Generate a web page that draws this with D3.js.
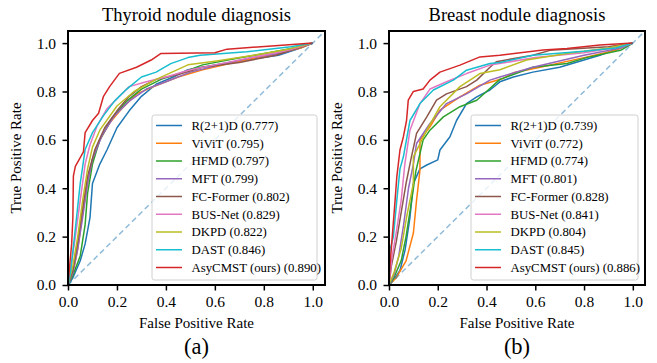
<!DOCTYPE html>
<html><head><meta charset="utf-8">
<script src="https://cdn.jsdelivr.net/npm/d3@7"></script>
<style>body{margin:0;background:#fff}svg{display:block}text{font-family:"Liberation Serif","Times New Roman",serif}</style>
</head><body><svg id="c" width="657" height="363"></svg>
<script>
const models = ["R(2+1)D","ViViT","HFMD","MFT","FC-Former","BUS-Net","DKPD","DAST","AsyCMST (ours)"];
const colors = ["#1f77b4","#ff7f0e","#2ca02c","#9467bd","#8c564b","#e377c2","#bcbd22","#17becf","#d62728"];
const aucThyroid = ["0.777","0.795","0.797","0.799","0.802","0.829","0.822","0.846","0.890"];
const aucBreast = ["0.739","0.772","0.774","0.801","0.828","0.841","0.804","0.845","0.886"];
const ticks = [0,0.2,0.4,0.6,0.8,1.0];

// Thyroid ROC curves [fpr, tpr]
const thyR21D = [[0,0],[0.02,0.03],[0.05,0.1],[0.07,0.17],[0.09,0.28],[0.1,0.42],[0.13,0.5],[0.16,0.56],[0.2,0.65],[0.25,0.72],[0.3,0.78],[0.36,0.83],[0.43,0.86],[0.49,0.89],[0.6,0.91],[0.66,0.92],[0.76,0.935],[0.86,0.95],[0.95,0.98],[1,1]];
const thyViViT = [[0,0],[0.02,0.05],[0.04,0.15],[0.06,0.3],[0.08,0.42],[0.1,0.52],[0.13,0.6],[0.17,0.67],[0.22,0.73],[0.28,0.79],[0.35,0.82],[0.45,0.86],[0.55,0.89],[0.7,0.925],[0.85,0.955],[0.95,0.98],[1,1]];
const thyHFMD = [[0,0],[0.02,0.04],[0.05,0.12],[0.07,0.25],[0.08,0.38],[0.1,0.5],[0.13,0.6],[0.18,0.69],[0.24,0.76],[0.3,0.81],[0.38,0.85],[0.47,0.88],[0.55,0.91],[0.68,0.935],[0.82,0.96],[0.95,0.985],[1,1]];
const thyMFT = [[0,0],[0.02,0.05],[0.04,0.15],[0.06,0.28],[0.08,0.42],[0.1,0.52],[0.14,0.62],[0.19,0.7],[0.25,0.76],[0.32,0.81],[0.4,0.84],[0.5,0.88],[0.62,0.91],[0.75,0.94],[0.88,0.96],[1,1]];
const thyFCF = [[0,0],[0.02,0.06],[0.04,0.18],[0.06,0.32],[0.08,0.45],[0.11,0.56],[0.15,0.65],[0.2,0.72],[0.25,0.78],[0.3,0.82],[0.36,0.85],[0.45,0.87],[0.55,0.9],[0.7,0.92],[0.85,0.95],[1,1]];
const thyBUS = [[0,0],[0.01,0.06],[0.03,0.2],[0.05,0.35],[0.07,0.5],[0.09,0.58],[0.12,0.66],[0.16,0.73],[0.2,0.77],[0.25,0.82],[0.32,0.84],[0.4,0.86],[0.5,0.89],[0.6,0.91],[0.75,0.94],[0.9,0.97],[1,1]];
const thyDKPD = [[0,0],[0.02,0.08],[0.04,0.2],[0.06,0.35],[0.08,0.48],[0.1,0.57],[0.13,0.64],[0.2,0.74],[0.27,0.8],[0.36,0.85],[0.49,0.91],[0.6,0.925],[0.76,0.95],[0.9,0.975],[1,1]];
const thyDAST = [[0,0],[0.01,0.05],[0.02,0.14],[0.035,0.28],[0.05,0.42],[0.07,0.56],[0.1,0.63],[0.145,0.7],[0.19,0.76],[0.24,0.81],[0.3,0.86],[0.36,0.88],[0.42,0.915],[0.49,0.94],[0.54,0.95],[0.73,0.964],[0.91,0.985],[1,1]];
const thyOurs = [[0,0],[0.005,0.06],[0.015,0.17],[0.02,0.28],[0.022,0.45],[0.03,0.49],[0.063,0.55],[0.07,0.63],[0.1,0.68],[0.125,0.71],[0.145,0.78],[0.17,0.82],[0.21,0.875],[0.28,0.9],[0.34,0.93],[0.38,0.957],[0.6,0.96],[0.65,0.975],[0.86,0.99],[1,1]];

// Breast ROC curves [fpr, tpr]
const brR21D = [[0,0],[0.018,0.02],[0.045,0.06],[0.066,0.145],[0.086,0.28],[0.1,0.42],[0.127,0.48],[0.155,0.496],[0.2,0.517],[0.209,0.558],[0.25,0.613],[0.277,0.68],[0.318,0.75],[0.36,0.778],[0.414,0.806],[0.455,0.84],[0.51,0.86],[0.59,0.88],[0.7,0.9],[0.865,0.95],[1,1]];
const brViViT = [[0,0],[0.03,0.03],[0.07,0.1],[0.1,0.215],[0.113,0.35],[0.127,0.475],[0.127,0.6],[0.168,0.654],[0.209,0.723],[0.291,0.778],[0.373,0.826],[0.468,0.854],[0.51,0.877],[0.62,0.9],[0.8,0.94],[0.93,0.97],[1,1]];
const brHFMD = [[0,0],[0.02,0.03],[0.05,0.1],[0.07,0.2],[0.09,0.33],[0.11,0.47],[0.14,0.6],[0.168,0.64],[0.223,0.695],[0.291,0.737],[0.36,0.764],[0.4,0.8],[0.455,0.85],[0.59,0.9],[0.73,0.916],[0.81,0.94],[0.95,0.97],[1,1]];
const brMFT = [[0,0],[0.02,0.04],[0.04,0.12],[0.06,0.25],[0.08,0.4],[0.1,0.5],[0.113,0.585],[0.168,0.668],[0.236,0.75],[0.318,0.79],[0.414,0.847],[0.455,0.86],[0.59,0.9],[0.8,0.95],[0.95,0.98],[1,1]];
const brFCF = [[0,0],[0.01,0.08],[0.03,0.18],[0.05,0.3],[0.07,0.42],[0.09,0.52],[0.113,0.627],[0.155,0.695],[0.195,0.764],[0.236,0.79],[0.318,0.82],[0.36,0.847],[0.414,0.9],[0.44,0.923],[0.59,0.95],[0.66,0.97],[0.9,0.985],[1,1]];
const brBUS = [[0,0],[0.01,0.1],[0.03,0.22],[0.05,0.35],[0.065,0.5],[0.086,0.64],[0.127,0.75],[0.168,0.81],[0.236,0.84],[0.318,0.874],[0.414,0.909],[0.48,0.92],[0.6,0.94],[0.8,0.96],[0.95,0.985],[1,1]];
const brDKPD = [[0,0],[0.02,0.05],[0.05,0.15],[0.072,0.28],[0.1,0.42],[0.1,0.53],[0.155,0.64],[0.209,0.737],[0.291,0.82],[0.373,0.874],[0.455,0.89],[0.564,0.93],[0.73,0.957],[0.9,0.98],[1,1]];
const brDAST = [[0,0],[0.004,0.145],[0.018,0.2],[0.032,0.35],[0.045,0.48],[0.059,0.53],[0.086,0.68],[0.127,0.75],[0.182,0.806],[0.264,0.847],[0.318,0.888],[0.414,0.916],[0.455,0.92],[0.59,0.95],[0.8,0.966],[0.93,0.98],[1,1]];
const brOurs = [[0,0],[0.004,0.08],[0.011,0.17],[0.025,0.35],[0.032,0.447],[0.045,0.558],[0.059,0.613],[0.072,0.68],[0.079,0.764],[0.1,0.8],[0.14,0.81],[0.168,0.847],[0.209,0.88],[0.291,0.909],[0.373,0.943],[0.455,0.95],[0.632,0.971],[0.73,0.978],[0.865,0.992],[1,1]];

const thyroidCurves = [thyR21D,thyViViT,thyHFMD,thyMFT,thyFCF,thyBUS,thyDKPD,thyDAST,thyOurs];
const breastCurves = [brR21D,brViViT,brHFMD,brMFT,brFCF,brBUS,brDKPD,brDAST,brOurs];

const svg = d3.select("#c");
const FONT = "'Liberation Serif','Times New Roman',serif";

function panel(cfg){
  const g = svg.append("g");
  const x = d3.scaleLinear().domain([0,1.05]).range([cfg.left, cfg.left+cfg.w]);
  const y = d3.scaleLinear().domain([0,1.05]).range([cfg.top+cfg.h, cfg.top]);
  const clipId = "clip"+cfg.id;
  svg.append("clipPath").attr("id",clipId).append("rect")
    .attr("x",cfg.left).attr("y",cfg.top).attr("width",cfg.w).attr("height",cfg.h);
  const plot = g.append("g").attr("clip-path",`url(#${clipId})`);
  const line = d3.line().x(d=>x(d[0])).y(d=>y(d[1]));
  cfg.curves.forEach((c,i)=>{
    plot.append("path").datum(c).attr("d",line).attr("fill","none")
      .attr("stroke",colors[i]).attr("stroke-width",1.5).attr("stroke-linejoin","round");
  });
  plot.append("path").datum([[0,0],[1.05,1.05]]).attr("d",line).attr("fill","none")
    .attr("stroke","#1f77b4").attr("stroke-opacity",0.5).attr("stroke-width",1.5)
    .attr("stroke-dasharray","5.5,3.5");
  const xa = g.append("g").attr("transform",`translate(0,${cfg.top+cfg.h})`)
    .call(d3.axisBottom(x).tickValues(ticks).tickFormat(d3.format(".1f")).tickSize(5.5).tickPadding(5));
  const ya = g.append("g").attr("transform",`translate(${cfg.left},0)`)
    .call(d3.axisLeft(y).tickValues(ticks).tickFormat(d3.format(".1f")).tickSize(5.5).tickPadding(6.5));
  [xa,ya].forEach(a=>{
    a.attr("font-family",null).attr("font-size",null);
    a.select(".domain").remove();
    a.selectAll("line").attr("stroke","#000").attr("stroke-width",1.5);
    a.selectAll("text").attr("fill","#000").style("font-family",FONT).style("font-size","15.5px");
  });
  g.append("rect").attr("x",cfg.left).attr("y",cfg.top).attr("width",cfg.w).attr("height",cfg.h)
    .attr("fill","none").attr("stroke","#000").attr("stroke-width",2);
  g.append("text").attr("x",cfg.left+cfg.w/2).attr("y",21).attr("text-anchor","middle")
    .style("font-size","18.5px").text(cfg.title);
  g.append("text").attr("x",cfg.left+cfg.w/2).attr("y",328).attr("text-anchor","middle")
    .style("font-size","15px").text("False Positive Rate");
  g.append("text").attr("transform",`translate(${cfg.left-47},${cfg.top+cfg.h/2}) rotate(-90)`)
    .attr("text-anchor","middle").style("font-size","15px").text("True Positive Rate");
  g.append("text").attr("x",cfg.left+cfg.w/2).attr("y",354).attr("text-anchor","middle")
    .style("font-size","22.5px").text(cfg.sub);
  const lg = g.append("g");
  lg.append("rect").attr("x",cfg.lx).attr("y",115).attr("width",cfg.lw).attr("height",165)
    .attr("rx",2.5).attr("fill","#fff").attr("fill-opacity",0.8).attr("stroke","#d0d0d0").attr("stroke-width",1);
  models.forEach((m,i)=>{
    const yy = 125.5 + i*17.75;
    lg.append("line").attr("x1",cfg.lx+4).attr("x2",cfg.lx+30).attr("y1",yy).attr("y2",yy)
      .attr("stroke",colors[i]).attr("stroke-width",1.5);
    lg.append("text").attr("x",cfg.lx+39.5).attr("y",yy+4.3).style("font-size","12.8px")
      .text(`${m} (${cfg.auc[i]})`);
  });
}

panel({id:"a",left:68,top:31,w:257,h:254,curves:thyroidCurves,auc:aucThyroid,title:"Thyroid nodule diagnosis",sub:"(a)",lx:152,lw:165});
panel({id:"b",left:389,top:31,w:256,h:254,curves:breastCurves,auc:aucBreast,title:"Breast nodule diagnosis",sub:"(b)",lx:471,lw:167});
</script></body></html>
